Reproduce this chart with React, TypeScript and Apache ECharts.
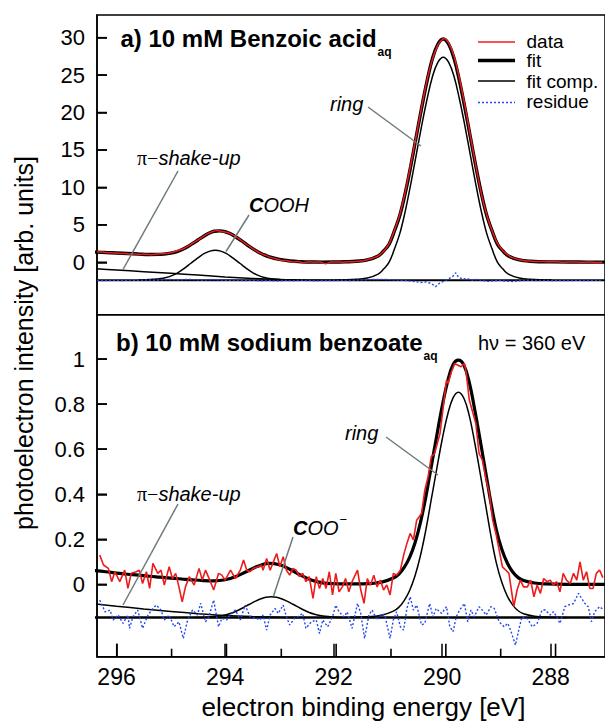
import React, { useEffect, useRef } from 'react';
import * as echarts from 'echarts';

// ---------- panel a) 10 mM Benzoic acid ----------
const topFit: number[][] = [
  [296.4, 1.36], [296.2, 1.30], [296.0, 1.24], [295.8, 1.17], [295.6, 1.10], [295.4, 1.05], [295.2, 1.06],
  [295.0, 1.22], [294.9, 1.40], [294.8, 1.68], [294.7, 2.05], [294.6, 2.50], [294.5, 2.98], [294.4, 3.45],
  [294.3, 3.88], [294.2, 4.15], [294.1, 4.20], [294.0, 4.08], [293.9, 3.80], [293.8, 3.38], [293.7, 2.88],
  [293.6, 2.36], [293.5, 1.86], [293.4, 1.42], [293.3, 1.05], [293.2, 0.76], [293.0, 0.38], [292.8, 0.17],
  [292.6, 0.08], [292.4, 0.04], [292.2, 0.02], [292.0, 0.03], [291.78, 0.07], [291.58, 0.14], [291.38, 0.32],
  [291.18, 0.85], [291.08, 1.51], [290.98, 2.40], [290.88, 4.19], [290.78, 6.28], [290.68, 9.26],
  [290.58, 12.83], [290.48, 16.71], [290.38, 20.58], [290.28, 24.16], [290.18, 27.2], [290.08, 29.13],
  [289.98, 29.82], [289.88, 29.13], [289.78, 27.2], [289.68, 24.16], [289.58, 20.58], [289.48, 16.71],
  [289.38, 12.83], [289.28, 9.26], [289.18, 6.28], [289.08, 4.19], [288.98, 2.40], [288.88, 1.51],
  [288.78, 0.85], [288.58, 0.32], [288.38, 0.14], [287.98, 0.05], [287.5, 0.03], [287.0, 0.02],
];

const topData: number[][] = [
  [296.36, 1.40], [296.25, 1.36], [296.15, 1.28], [296.05, 1.25], [295.95, 1.20], [295.85, 1.16],
  [295.75, 1.10], [295.65, 1.12], [295.55, 1.05], [295.45, 1.08], [295.35, 1.02], [295.25, 1.10],
  [295.15, 1.15], [295.05, 1.22], [294.95, 1.38], [294.85, 1.60], [294.75, 1.88], [294.65, 2.30],
  [294.55, 2.75], [294.45, 3.22], [294.35, 3.70], [294.25, 4.05], [294.15, 4.25], [294.05, 4.12],
  [293.95, 3.98], [293.85, 3.62], [293.75, 3.15], [293.65, 2.62], [293.55, 2.12], [293.45, 1.62],
  [293.35, 1.20], [293.25, 0.92], [293.15, 0.62], [293.05, 0.45], [292.95, 0.25], [292.85, 0.22],
  [292.75, 0.05], [292.65, 0.10], [292.55, -0.05], [292.45, 0.06], [292.35, 0.02], [292.25, 0.05],
  [292.15, -0.20], [292.05, 0.03], [291.95, 0.04], [291.85, 0.02], [291.75, 0.08], [291.65, 0.06],
  [291.55, 0.15], [291.45, 0.22], [291.35, 0.40], [291.25, 0.62], [291.15, 1.00], [291.05, 1.70],
  [290.98, 2.45], [290.88, 4.25], [290.78, 6.40], [290.68, 9.40], [290.58, 13.0], [290.48, 16.8],
  [290.38, 20.7], [290.28, 24.3], [290.18, 27.1], [290.08, 29.0], [290.0, 29.75], [289.96, 29.9],
  [289.88, 29.3], [289.78, 27.5], [289.68, 24.5], [289.58, 20.9], [289.48, 16.9], [289.38, 12.9],
  [289.28, 9.2], [289.18, 6.35], [289.08, 4.2], [288.98, 2.50], [288.88, 1.55], [288.78, 0.92],
  [288.68, 0.55], [288.58, 0.35], [288.48, 0.22], [288.38, 0.16], [288.28, 0.10], [288.18, 0.12],
  [288.05, 0.06], [287.9, 0.08], [287.75, 0.02], [287.6, 0.05], [287.45, 0.0], [287.3, 0.04],
  [287.15, -0.02], [287.05, 0.02],
];

const topRing: number[][] = [
  [291.98, -2.37], [291.58, -2.28], [291.38, -2.10], [291.18, -1.57], [291.08, -0.91], [290.98, -0.02],
  [290.88, 1.77], [290.78, 3.86], [290.68, 6.84], [290.58, 10.41], [290.48, 14.29], [290.38, 18.16],
  [290.28, 21.74], [290.18, 24.78], [290.08, 26.71], [289.98, 27.40], [289.88, 26.71], [289.78, 24.78],
  [289.68, 21.74], [289.58, 18.16], [289.48, 14.29], [289.38, 10.41], [289.28, 6.84], [289.18, 3.86],
  [289.08, 1.77], [288.98, -0.02], [288.88, -0.91], [288.78, -1.57], [288.58, -2.10], [288.38, -2.28],
  [287.98, -2.37],
];

const topCooh: number[][] = [
  [295.6, -2.39], [295.38, -2.30], [295.18, -2.18], [295.08, -2.02], [294.98, -1.78], [294.88, -1.44],
  [294.78, -0.96], [294.68, -0.40], [294.58, 0.16], [294.48, 0.70], [294.38, 1.18], [294.28, 1.49],
  [294.18, 1.60], [294.08, 1.49], [293.98, 1.18], [293.88, 0.70], [293.78, 0.16], [293.68, -0.40],
  [293.58, -0.96], [293.48, -1.44], [293.38, -1.78], [293.28, -2.02], [293.18, -2.18], [292.98, -2.30],
  [292.76, -2.39],
];

const topShake: number[][] = [
  [296.4, -0.85], [296.0, -1.03], [295.5, -1.25], [295.0, -1.47], [294.5, -1.71], [294.0, -1.95],
  [293.5, -2.15], [293.0, -2.30], [292.5, -2.38], [292.0, -2.40],
];

const topBaseline: number[][] = [[296.4, -2.4], [287.0, -2.4]];

const topResidue: number[][] = [
  [296.36, -2.42], [296.2, -2.45], [296.05, -2.40], [295.9, -2.43], [295.75, -2.38], [295.6, -2.42],
  [295.45, -2.36], [295.3, -2.40], [295.15, -2.33], [295.0, -2.30], [294.85, -2.36], [294.7, -2.28],
  [294.55, -2.32], [294.4, -2.38], [294.25, -2.30], [294.1, -2.35], [293.95, -2.42], [293.8, -2.38],
  [293.65, -2.45], [293.5, -2.40], [293.35, -2.47], [293.2, -2.43], [293.05, -2.50], [292.9, -2.42],
  [292.75, -2.46], [292.6, -2.40], [292.45, -2.44], [292.3, -2.48], [292.15, -2.42], [292.0, -2.45],
  [291.85, -2.40], [291.7, -2.43], [291.55, -2.38], [291.4, -2.33], [291.25, -2.30], [291.1, -2.28],
  [290.95, -2.32], [290.8, -2.38], [290.65, -2.45], [290.5, -2.58], [290.4, -2.70], [290.3, -2.62],
  [290.2, -2.85], [290.12, -3.25], [290.05, -2.80], [289.95, -2.45], [289.88, -2.20], [289.8, -1.85],
  [289.75, -1.40], [289.7, -2.00], [289.62, -2.25], [289.55, -2.15], [289.45, -2.38], [289.35, -2.30],
  [289.25, -2.45], [289.15, -2.55], [289.05, -2.48], [288.95, -2.40], [288.85, -2.50], [288.7, -2.56],
  [288.55, -2.45], [288.4, -2.38], [288.25, -2.44], [288.1, -2.40], [287.95, -2.46], [287.8, -2.42],
  [287.65, -2.45], [287.5, -2.40], [287.35, -2.44], [287.2, -2.41], [287.05, -2.43],
];

// ---------- panel b) 10 mM sodium benzoate ----------
const botFit: number[][] = [
  [296.4, 0.061], [296.2, 0.056], [296.0, 0.050], [295.8, 0.045], [295.6, 0.041], [295.4, 0.036],
  [295.2, 0.032], [295.0, 0.028], [294.8, 0.024], [294.6, 0.020], [294.4, 0.017], [294.2, 0.016],
  [294.0, 0.0205], [293.8, 0.035], [293.6, 0.0575], [293.4, 0.080], [293.2, 0.093], [293.0, 0.087],
  [292.8, 0.066], [292.6, 0.040], [292.4, 0.018], [292.2, 0.007], [292.0, 0.003], [291.8, 0.002],
  [291.6, 0.002], [291.4, 0.003], [291.3, 0.004], [291.1, 0.011], [290.9, 0.028], [290.8, 0.045],
  [290.7, 0.075], [290.6, 0.12], [290.5, 0.185], [290.4, 0.275], [290.3, 0.39], [290.2, 0.525],
  [290.1, 0.66], [290.0, 0.79], [289.9, 0.90], [289.8, 0.975], [289.7, 0.995], [289.6, 0.973],
  [289.5, 0.895], [289.4, 0.775], [289.3, 0.64], [289.2, 0.50], [289.1, 0.36], [289.0, 0.24],
  [288.9, 0.155], [288.8, 0.095], [288.7, 0.055], [288.6, 0.03], [288.5, 0.017], [288.3, 0.006],
  [288.1, 0.002], [287.7, 0.0], [287.0, 0.0],
];

const botData: number[][] = [
  [296.31, 0.13], [296.24, 0.086], [296.15, 0.071], [296.09, 0.012], [296.03, 0.056], [295.94, 0.012],
  [295.85, 0.063], [295.79, -0.018], [295.73, 0.049], [295.64, 0.056], [295.58, 0.063], [295.52, 0.004],
  [295.45, 0.056], [295.39, -0.018], [295.33, 0.093], [295.24, 0.049], [295.18, 0.063], [295.12, -0.003],
  [295.03, 0.078], [294.97, 0.026], [294.91, 0.049], [294.85, -0.011], [294.79, -0.077], [294.73, -0.011],
  [294.66, 0.034], [294.57, -0.003], [294.48, 0.071], [294.42, 0.019], [294.36, 0.063], [294.27, 0.012],
  [294.21, -0.025], [294.12, 0.049], [294.06, 0.041], [294.0, 0.019], [293.9, 0.063], [293.81, 0.026],
  [293.72, 0.063], [293.66, 0.108], [293.6, 0.063], [293.54, 0.056], [293.48, 0.071], [293.39, 0.078],
  [293.33, 0.085], [293.30, 0.063], [293.235, 0.115], [293.17, 0.063], [293.11, 0.10], [293.05, 0.137],
  [292.99, 0.078], [292.93, 0.123], [292.87, 0.063], [292.81, 0.041], [292.75, 0.071], [292.69, 0.063],
  [292.63, 0.034], [292.57, 0.049], [292.51, 0.012], [292.45, 0.034], [292.38, -0.062], [292.32, 0.034],
  [292.26, -0.018], [292.20, 0.026], [292.14, -0.018], [292.08, 0.056], [292.02, -0.047], [291.96, 0.049],
  [291.90, -0.033], [291.84, -0.011], [291.78, 0.026], [291.72, -0.033], [291.66, 0.012], [291.56, 0.063],
  [291.50, -0.025], [291.44, -0.084], [291.38, 0.026], [291.32, -0.003], [291.26, 0.041], [291.20, -0.011],
  [291.14, 0.019], [291.08, -0.025], [291.02, -0.003], [290.96, -0.047], [290.90, 0.049], [290.84, 0.041],
  [290.77, 0.063], [290.71, 0.13], [290.65, 0.182], [290.59, 0.226], [290.53, 0.197], [290.47, 0.285],
  [290.38, 0.315], [290.32, 0.418], [290.26, 0.478], [290.20, 0.567], [290.14, 0.581], [290.04, 0.67],
  [289.98, 0.788], [289.92, 0.907], [289.89, 0.892], [289.83, 0.944], [289.77, 0.98], [289.71, 0.973],
  [289.65, 0.966], [289.59, 0.98], [289.56, 0.944], [289.50, 0.818], [289.44, 0.766], [289.38, 0.714],
  [289.32, 0.581], [289.26, 0.552], [289.19, 0.463], [289.13, 0.404], [289.07, 0.285], [289.01, 0.226],
  [288.95, 0.152], [288.89, 0.078], [288.83, 0.064], [288.77, 0.049], [288.68, -0.099], [288.62, -0.025],
  [288.56, 0.019], [288.50, -0.011], [288.43, -0.011], [288.37, 0.019], [288.31, -0.055], [288.25, -0.003],
  [288.19, -0.04], [288.13, 0.026], [288.07, 0.012], [288.01, 0.019], [287.95, -0.003], [287.89, 0.012],
  [287.83, -0.033], [287.77, 0.049], [287.71, 0.019], [287.64, 0.004], [287.58, 0.049], [287.52, 0.019],
  [287.46, 0.10], [287.40, 0.019], [287.34, 0.056], [287.28, -0.018], [287.22, -0.018], [287.16, 0.049],
  [287.10, 0.064], [287.04, 0.03],
];

const botRing: number[][] = [
  [291.7, -0.146], [291.3, -0.143], [291.1, -0.136], [290.9, -0.119], [290.8, -0.102], [290.7, -0.072],
  [290.6, -0.027], [290.5, 0.038], [290.4, 0.128], [290.3, 0.243], [290.2, 0.378], [290.1, 0.513],
  [290.0, 0.643], [289.9, 0.753], [289.8, 0.828], [289.7, 0.853], [289.6, 0.826], [289.5, 0.748],
  [289.4, 0.628], [289.3, 0.493], [289.2, 0.353], [289.1, 0.213], [289.0, 0.093], [288.9, 0.008],
  [288.8, -0.052], [288.7, -0.092], [288.6, -0.117], [288.5, -0.130], [288.3, -0.141], [288.1, -0.145],
  [287.7, -0.147],
];

const botCoo: number[][] = [
  [294.55, -0.147], [294.35, -0.1454], [294.15, -0.1419], [294.05, -0.1383], [293.95, -0.1327],
  [293.85, -0.1249], [293.75, -0.1139], [293.65, -0.101], [293.55, -0.0881], [293.45, -0.0757],
  [293.35, -0.0647], [293.25, -0.0575], [293.15, -0.055], [293.05, -0.0575], [292.95, -0.0647],
  [292.85, -0.0757], [292.75, -0.0881], [292.65, -0.101], [292.55, -0.1139], [292.45, -0.1249],
  [292.35, -0.1327], [292.25, -0.1383], [292.15, -0.1419], [291.95, -0.1454], [291.75, -0.147],
];

const botShake: number[][] = [
  [296.4, -0.086], [296.0, -0.097], [295.5, -0.109], [295.0, -0.12], [294.5, -0.13], [294.0, -0.138],
  [293.5, -0.143], [293.0, -0.146], [292.5, -0.147],
];

const botBaseline: number[][] = [[296.4, -0.147], [287.0, -0.147]];

const botResidue: number[][] = [
  [296.31, -0.07], [296.21, -0.122], [296.12, -0.114], [296.06, -0.158], [295.97, -0.136], [295.88, -0.173],
  [295.79, -0.136], [295.76, -0.195], [295.70, -0.144], [295.61, -0.114], [295.52, -0.195], [295.42, -0.136],
  [295.33, -0.107], [295.27, -0.092], [295.18, -0.114], [295.12, -0.158], [295.03, -0.136], [294.94, -0.188],
  [294.85, -0.166], [294.77, -0.24], [294.69, -0.158], [294.60, -0.114], [294.51, -0.136], [294.45, -0.084],
  [294.36, -0.166], [294.30, -0.144], [294.21, -0.07], [294.12, -0.188], [294.06, -0.151], [293.97, -0.158],
  [293.91, -0.136], [293.81, -0.114], [293.72, -0.158], [293.63, -0.092], [293.54, -0.144], [293.42, -0.151],
  [293.36, -0.158], [293.30, -0.136], [293.235, -0.203], [293.17, -0.136], [293.08, -0.107], [293.02, -0.129],
  [292.93, -0.092], [292.87, -0.144], [292.81, -0.18], [292.72, -0.151], [292.66, -0.144], [292.57, -0.129],
  [292.51, -0.195], [292.41, -0.166], [292.32, -0.158], [292.26, -0.218], [292.20, -0.158], [292.11, -0.188],
  [292.02, -0.144], [291.96, -0.092], [291.90, -0.122], [291.81, -0.144], [291.75, -0.122], [291.66, -0.195],
  [291.56, -0.084], [291.50, -0.129], [291.43, -0.24], [291.35, -0.136], [291.29, -0.114], [291.20, -0.158],
  [291.11, -0.129], [291.05, -0.144], [290.96, -0.24], [290.90, -0.158], [290.84, -0.122], [290.77, -0.188],
  [290.71, -0.203], [290.65, -0.107], [290.59, -0.055], [290.53, -0.114], [290.47, -0.092], [290.38, -0.18],
  [290.32, -0.173], [290.23, -0.085], [290.17, -0.144], [290.11, -0.107], [290.01, -0.129], [289.92, -0.099],
  [289.86, -0.188], [289.80, -0.21], [289.74, -0.144], [289.68, -0.114], [289.59, -0.085], [289.53, -0.166],
  [289.47, -0.114], [289.41, -0.144], [289.32, -0.099], [289.26, -0.114], [289.19, -0.136], [289.10, -0.099],
  [289.04, -0.107], [288.95, -0.166], [288.86, -0.188], [288.79, -0.173], [288.74, -0.203], [288.65, -0.27],
  [288.59, -0.203], [288.53, -0.144], [288.43, -0.152], [288.34, -0.188], [288.25, -0.173], [288.16, -0.114],
  [288.10, -0.114], [288.01, -0.136], [287.95, -0.121], [287.89, -0.144], [287.83, -0.173], [287.74, -0.099],
  [287.68, -0.092], [287.58, -0.085], [287.49, -0.04], [287.43, -0.062], [287.37, -0.085], [287.31, -0.099],
  [287.25, -0.166], [287.19, -0.121], [287.10, -0.099], [287.04, -0.11],
];

// ---------- axes ----------
const X_MIN = 287.0;
const X_MAX = 296.36;
const TOP_Y_MIN = -7;
const TOP_Y_MAX = 33.03;
const BOT_Y_MIN = -0.321;
const BOT_Y_MAX = 1.197;
const xMajorTicks = [288, 290, 292, 294, 296];
const xMinorTicks = [287, 289, 291, 293, 295];
const topYTicks = [0, 5, 10, 15, 20, 25, 30];
const botYTicks = [0, 0.2, 0.4, 0.6, 0.8, 1];
const botYLabels = ['0', '0.2', '0.4', '0.6', '0.8', '1'];

const FONT = 'Liberation Sans, Arial, Helvetica, sans-serif';
const RED = '#ec1c1c';
const BLUE = '#2448f0';
const GRAY = '#6d7b7b';

// grid geometry (pixels)
const GRID_LEFT = 97;
const GRID_W = 513.4;
const TOP_GRID = { top: 15, height: 299.7 };
const BOT_GRID = { top: 314.7, height: 342 };

function lineSeries(name: string, data: number[][], axis: number, color: string, width: number, extra: any = {}) {
  return {
    name,
    type: 'line',
    data,
    xAxisIndex: axis === 0 ? 0 : 1,
    yAxisIndex: axis,
    showSymbol: false,
    symbol: 'none',
    silent: true,
    lineStyle: { color, width, ...(extra.lineStyle || {}) },
    smooth: extra.smooth ?? false,
    z: extra.z ?? 2,
  };
}

function txt(x: number, y: number, text: string, size: number, opts: any = {}) {
  return {
    type: 'text',
    x,
    y,
    rotation: opts.rotation || 0,
    silent: true,
    style: {
      text,
      fill: '#000',
      fontSize: size,
      fontFamily: opts.fontFamily || FONT,
      fontWeight: opts.fontWeight || 'normal',
      fontStyle: opts.fontStyle || 'normal',
      align: opts.align || 'left',
      textAlign: opts.align || 'left',
      verticalAlign: 'middle',
      textVerticalAlign: 'middle',
      rich: opts.rich,
    },
  };
}

function seg(x1: number, y1: number, x2: number, y2: number, color: string, width: number, dash?: number[]) {
  const s: any = { stroke: color, lineWidth: width };
  if (dash) s.lineDash = dash;
  return {
    type: 'line',
    silent: true,
    z: 10,
    shape: { x1, y1, x2, y2 },
    style: s,
  };
}

// pixel position of an axis value (same linear map the axes use)
const xPx = (v: number) => GRID_LEFT + ((X_MAX - v) / (X_MAX - X_MIN)) * GRID_W;
const topYPx = (v: number) => TOP_GRID.top + ((TOP_Y_MAX - v) / (TOP_Y_MAX - TOP_Y_MIN)) * TOP_GRID.height;
const botYPx = (v: number) => BOT_GRID.top + ((BOT_Y_MAX - v) / (BOT_Y_MAX - BOT_Y_MIN)) * BOT_GRID.height;

export default function App() {
  const ref = useRef<HTMLDivElement>(null);
  useEffect(() => {
    if (!ref.current) return;
    const chart = echarts.init(ref.current, null, { renderer: 'svg' });
    const xCommon = { type: 'value', min: X_MIN, max: X_MAX, inverse: true, splitLine: { show: false } };
    const richPi = {
      p: { fontSize: 20, fontFamily: 'Liberation Serif, DejaVu Serif, serif', fill: '#000' },
      i: { fontSize: 20, fontStyle: 'italic', fontFamily: FONT, fill: '#000' },
    };
    const richC = {
      b: { fontSize: 20, fontStyle: 'italic', fontWeight: 'bold', fontFamily: FONT, fill: '#000' },
      i: { fontSize: 20, fontStyle: 'italic', fontFamily: FONT, fill: '#000' },
    };

    const yBottom = BOT_GRID.top + BOT_GRID.height;
    const tickEls: any[] = [];
    xMajorTicks.forEach((v) => tickEls.push(seg(xPx(v), yBottom, xPx(v), yBottom - 13, '#000', 1.6)));
    xMinorTicks.forEach((v) => tickEls.push(seg(xPx(v), yBottom, xPx(v), yBottom - 8, '#000', 1.6)));
    topYTicks.forEach((v) => tickEls.push(seg(GRID_LEFT, topYPx(v), GRID_LEFT + 10, topYPx(v), '#000', 1.6)));
    botYTicks.forEach((v) => tickEls.push(seg(GRID_LEFT, botYPx(v), GRID_LEFT + 10, botYPx(v), '#000', 1.6)));

    const option: any = {
      animation: false,
      textStyle: { fontFamily: FONT },
      grid: [
        { left: GRID_LEFT, top: TOP_GRID.top, width: GRID_W, height: TOP_GRID.height, show: true, borderColor: '#000', borderWidth: 1.5 },
        { left: GRID_LEFT, top: BOT_GRID.top, width: GRID_W, height: BOT_GRID.height, show: true, borderColor: '#000', borderWidth: 1.5 },
      ],
      xAxis: [
        { ...xCommon, gridIndex: 0, show: false, axisLine: { onZero: false } },
        {
          ...xCommon, gridIndex: 1, position: 'bottom',
          axisLine: { show: true, onZero: false, lineStyle: { color: '#000', width: 1.5 } },
          axisTick: { show: true, inside: true, length: 13, customValues: xMajorTicks, lineStyle: { color: '#000', width: 1.5 } },
          axisLabel: { show: true, customValues: xMajorTicks, color: '#000', fontSize: 23, margin: 9, fontFamily: FONT },
        },
      ],
      yAxis: [
        {
          type: 'value', gridIndex: 0, min: TOP_Y_MIN, max: TOP_Y_MAX, splitLine: { show: false }, position: 'left',
          axisLine: { show: true, onZero: false, lineStyle: { color: '#000', width: 1.5 } },
          axisTick: { show: true, inside: true, length: 10, customValues: topYTicks, lineStyle: { color: '#000', width: 1.5 } },
          axisLabel: { show: true, customValues: topYTicks, color: '#000', fontSize: 22, margin: 12, fontFamily: FONT },
        },
        {
          type: 'value', gridIndex: 1, min: BOT_Y_MIN, max: BOT_Y_MAX, splitLine: { show: false }, position: 'left',
          axisLine: { show: true, onZero: false, lineStyle: { color: '#000', width: 1.5 } },
          axisTick: { show: true, inside: true, length: 10, customValues: botYTicks, lineStyle: { color: '#000', width: 1.5 } },
          axisLabel: {
            show: true, customValues: botYTicks, color: '#000', fontSize: 22, margin: 12, fontFamily: FONT,
            formatter: (v: number) => {
              const i = botYTicks.findIndex((t) => Math.abs(t - v) < 1e-6);
              return i >= 0 ? botYLabels[i] : '';
            },
          },
        },
      ],
      series: [
        lineSeries('top baseline', topBaseline, 0, '#000', 2),
        lineSeries('top shake', topShake, 0, '#000', 1.5, { smooth: 0.3 }),
        lineSeries('top COOH', topCooh, 0, '#000', 1.5, { smooth: 0.4 }),
        lineSeries('top ring', topRing, 0, '#000', 1.5, { smooth: 0.4 }),
        lineSeries('top residue', topResidue, 0, BLUE, 1.4, { lineStyle: { type: [2, 2] } }),
        lineSeries('top fit', topFit, 0, '#000', 3.4, { smooth: 0.4 }),
        lineSeries('top data', topData, 0, RED, 1.5, { smooth: 0.2 }),
        lineSeries('bot baseline', botBaseline, 1, '#000', 2.6),
        lineSeries('bot shake', botShake, 1, '#000', 1.5, { smooth: 0.3 }),
        lineSeries('bot COO', botCoo, 1, '#000', 1.5, { smooth: 0.4 }),
        lineSeries('bot ring', botRing, 1, '#000', 1.5, { smooth: 0.4 }),
        lineSeries('bot residue', botResidue, 1, BLUE, 1.4, { lineStyle: { type: [2, 2] } }),
        lineSeries('bot fit', botFit, 1, '#000', 3.2, { smooth: 0.4 }),
        lineSeries('bot data', botData, 1, RED, 1.6),
      ],
      graphic: {
        elements: [
          ...tickEls,
          // panel titles
          txt(120.5, 38.5, 'a) 10 mM Benzoic acid', 24, { fontWeight: 'bold' }),
          txt(377.5, 51.5, 'aq', 12, { fontWeight: 'bold' }),
          txt(116, 342, 'b) 10 mM sodium benzoate', 24, { fontWeight: 'bold' }),
          txt(423.5, 356, 'aq', 12, { fontWeight: 'bold' }),
          txt(478, 343, 'h\u03bd = 360 eV', 20),
          // legend
          seg(478, 42, 515, 42, RED, 1.6),
          seg(478, 60.5, 515, 60.5, '#000', 3.5),
          seg(478, 81, 515, 81, '#000', 1.5),
          seg(478, 102.5, 515, 102.5, BLUE, 1.4, [2, 2]),
          txt(526.5, 41, 'data', 19),
          txt(526.5, 60, 'fit', 19),
          txt(526.5, 81.5, 'fit comp.', 19),
          txt(526.5, 101.5, 'residue', 19),
          // top annotations
          txt(330, 104, 'ring', 20, { fontStyle: 'italic' }),
          seg(368, 107, 421, 146, GRAY, 1.5),
          txt(137, 158, '{p|\u03c0\u2212}{i|shake-up}', 20, { rich: richPi }),
          seg(178, 171, 123, 269.5, GRAY, 1.5),
          txt(249, 205, '{b|C}{i|OOH}', 20, { rich: richC }),
          seg(249, 215, 226, 251.5, GRAY, 1.5),
          // bottom annotations
          txt(345, 433, 'ring', 20, { fontStyle: 'italic' }),
          seg(386, 437, 438, 475, GRAY, 1.5),
          txt(137, 494, '{p|\u03c0\u2212}{i|shake-up}', 20, { rich: richPi }),
          seg(178, 504, 123, 605, GRAY, 1.5),
          txt(293, 528, '{b|C}{i|OO}', 20, { rich: richC }),
          txt(339.5, 519, '\u2212', 13),
          seg(293, 537, 273.5, 596, GRAY, 1.5),
          // axis titles
          txt(363.5, 707, 'electron binding energy [eV]', 26, { align: 'center' }),
          txt(24, 343, 'photoelectron intensity [arb. units]', 25, { align: 'center', rotation: Math.PI / 2 }),
        ],
      },
    };
    chart.setOption(option);
    return () => chart.dispose();
  }, []);
  return <div ref={ref} style={{ position: 'absolute', left: 0, top: 0, width: 605, height: 722 }} />;
}
